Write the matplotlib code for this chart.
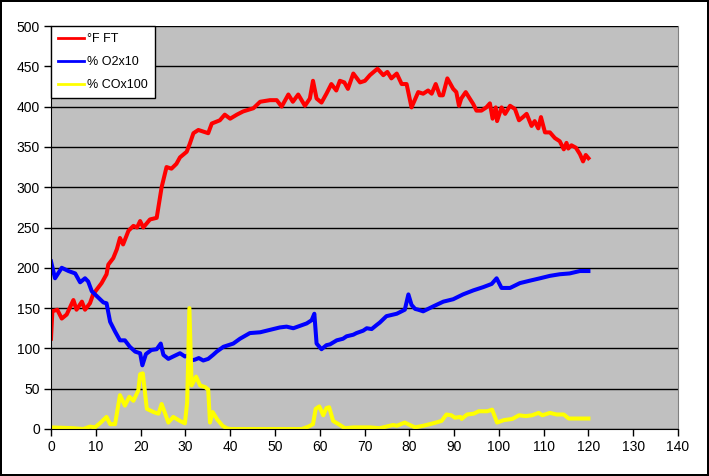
import numpy as np
import matplotlib
matplotlib.use("Agg")
from matplotlib import pyplot as plt

plt.rcParams['font.family'] = ['Liberation Sans', 'DejaVu Sans']

###Series (time, value)
t_ft = [0, 0.3, 1.4, 2.4, 3.5, 5.0, 5.7, 6.9, 7.6, 8.7, 9.4, 10.2, 11.3, 12.4, 12.8,
        13.9, 14.7, 15.4, 16.1, 17.3, 18.4, 19.2, 19.9, 20.6, 22.1, 23.6, 24.7, 25.8,
        26.9, 28.0, 28.8, 30.3, 31.0, 31.8, 32.9, 34.0, 35.1, 35.9, 37.7, 38.8, 40.0,
        41.5, 42.9, 45.2, 46.7, 48.9, 50.4, 51.5, 53.0, 54.0, 55.2, 56.7, 57.8, 58.5,
        59.3, 60.4, 61.5, 62.6, 63.7, 64.5, 65.5, 66.3, 67.5, 69.0, 70.1, 71.2, 72.9,
        74.2, 75.1, 76.0, 77.2, 78.3, 79.4, 80.5, 82.0, 83.1, 84.2, 85.0, 85.9, 86.8,
        87.5, 88.5, 89.8, 90.5, 91.1, 91.6, 92.6, 93.5, 94.3, 95.0, 96.1, 97.2, 98.0,
        98.6, 99.3, 99.6, 100.6, 101.4, 102.5, 103.6, 104.5, 105.4, 106.2, 107.3, 108.0,
        108.8, 109.4, 110.3, 111.4, 112.5, 113.6, 114.5, 115.1, 115.5, 116.2, 117.2,
        118.1, 118.8, 119.4, 120.0]
ft = [112, 146, 148, 137, 142, 160, 148, 158, 148, 156, 167, 173, 181, 192, 204,
      212, 223, 237, 229, 246, 252, 250, 258, 250, 260, 262, 300, 325,
      323, 329, 337, 344, 354, 367, 371, 369, 367, 379, 383, 390, 385,
      390, 394, 398, 406, 408, 408, 400, 415, 406, 415, 401, 410, 432,
      410, 405, 416, 428, 420, 432, 430, 422, 441, 430, 432, 439, 447,
      439, 443, 435, 441, 428, 428, 399, 418, 416, 420, 416, 428, 414,
      414, 435, 422, 418, 401, 410, 418, 410, 403, 395, 395, 399, 404,
      385, 399, 382, 399, 391, 401, 397, 383, 387, 391, 376, 382,
      373, 387, 368, 368, 361, 357, 347, 355, 348, 352, 349,
      341, 332, 340, 336]

t_o2 = [0, 0.9, 2.4, 3.9, 5.4, 6.5, 7.6, 8.3, 9.1, 10.2, 11.7, 12.4, 13.2, 14.3,
        15.4, 16.5, 17.6, 18.8, 19.9, 20.4, 21.2, 22.4, 23.6, 24.5, 25.1, 26.2, 27.3,
        28.8, 29.9, 30.5, 31.2, 32.1, 33.0, 34.0, 35.1, 36.2, 37.0, 38.5, 40.7, 42.2,
        44.4, 46.7, 48.9, 51.1, 52.6, 54.1, 55.6, 57.1, 58.2, 58.8, 59.3, 60.4, 61.5,
        62.3, 63.8, 65.2, 66.0, 67.5, 68.2, 69.7, 70.5, 71.6, 72.7, 73.4, 74.9, 77.2,
        79.0, 79.8, 80.5, 81.3, 82.0, 83.1, 85.3, 87.6, 89.8, 92.0, 94.3, 96.5, 98.4,
        99.5, 100.6, 102.5, 104.7, 106.9, 109.2, 111.4, 113.6, 115.8, 118.1, 120.0]
o2 = [208, 187, 200, 196, 193, 182, 187, 183, 171, 165, 157, 156, 133, 121,
      110, 110, 102, 96, 94, 79, 93, 98, 99, 106, 92, 87, 90,
      94, 90, 91, 85, 86, 88, 85, 87, 92, 96, 102, 106, 112,
      119, 120, 123, 126, 127, 125, 128, 131, 135, 143, 106, 99, 104,
      105, 110, 112, 115, 117, 119, 122, 125, 124, 129, 132, 140, 143,
      148, 167, 154, 149, 148, 146, 152, 158, 161, 167, 172, 176, 180,
      187, 175, 175, 181, 184, 187, 190, 192, 193, 196, 196]

t_co = [0, 5.0, 7.2, 8.7, 9.8, 10.9, 12.4, 13.2, 14.3, 15.4, 16.5, 17.5, 18.4, 19.5,
        19.9, 20.5, 21.4, 22.9, 24.0, 24.7, 25.5, 26.2, 27.3, 28.8, 29.9, 30.4, 30.9,
        31.4, 32.4, 33.3, 34.4, 35.1, 35.5, 36.1, 37.1, 38.3, 39.2, 40.0, 56.0, 57.5,
        58.5, 59.1, 59.9, 60.8, 61.5, 62.1, 63.0, 64.5, 65.6, 67.5, 71.2, 73.4, 74.9,
        76.4, 77.2, 79.0, 80.1, 81.3, 83.1, 85.3, 87.2, 88.3, 89.4, 90.2, 91.4, 91.7,
        92.9, 94.4, 95.5, 97.4, 98.5, 99.6, 101.1, 103.0, 104.5, 106.0, 107.4, 108.9,
        109.7, 111.4, 112.9, 114.5, 115.6, 117.9, 120.0]
co = [2, 1, 0, 3, 2, 7, 15, 6, 6, 42, 29, 40, 35, 48,
      68, 69, 25, 21, 19, 31, 19, 8, 15, 10, 7, 33, 150,
      54, 65, 54, 52, 49, 8, 21, 12, 4, 1, 0, 0, 3,
      6, 25, 28, 17, 26, 27, 10, 5, 1, 2, 2, 1, 3,
      5, 4, 8, 5, 2, 4, 7, 10, 18, 17, 14, 15, 12.5,
      18, 19, 22, 22, 24, 8, 11, 12.5, 17, 16, 17, 20,
      17, 20, 18, 18, 13, 13, 13]

labels = ["°F FT", "% O2x10", "% COx100"]

#Plot and plot properties
fig = plt.figure(figsize=(7.09, 4.76), dpi=100, facecolor='white',
                 edgecolor='black', linewidth=1.5)
ax = fig.add_axes([51/709, 1-429/476, 627/709, 403/476])
ax.set_facecolor('#C0C0C0')
ax.plot(t_ft, ft, color='#FF0000', linewidth=2.9, label=labels[0])
ax.plot(t_o2, o2, color='#0000FF', linewidth=2.9, label=labels[1])
ax.plot(t_co, co, color='#FFFF00', linewidth=2.9, label=labels[2])

ax.set_xlim(0, 140)
ax.set_ylim(0, 500)
ax.set_xticks(np.arange(0, 141, 10))
ax.set_yticks(np.arange(0, 501, 50))
ax.yaxis.grid(True, color='black', linewidth=1)
ax.set_axisbelow(True)
ax.tick_params(direction='out', length=5, width=1, labelsize=10, pad=3)
for s in ['left', 'bottom']:
    ax.spines[s].set_color('black')
ax.spines['top'].set_visible(False)
ax.spines['right'].set_color('#808080')

leg = ax.legend(loc='upper left', bbox_to_anchor=(0, 1), borderaxespad=0,
                fancybox=False, framealpha=1, edgecolor='black', fontsize=9,
                handlelength=2.1, handletextpad=0.25, labelspacing=0.9,
                borderpad=0.55)
leg.get_frame().set_linewidth(1)
for h in leg.get_lines():
    h.set_linewidth(2)

plt.savefig('out.png', dpi=100)
